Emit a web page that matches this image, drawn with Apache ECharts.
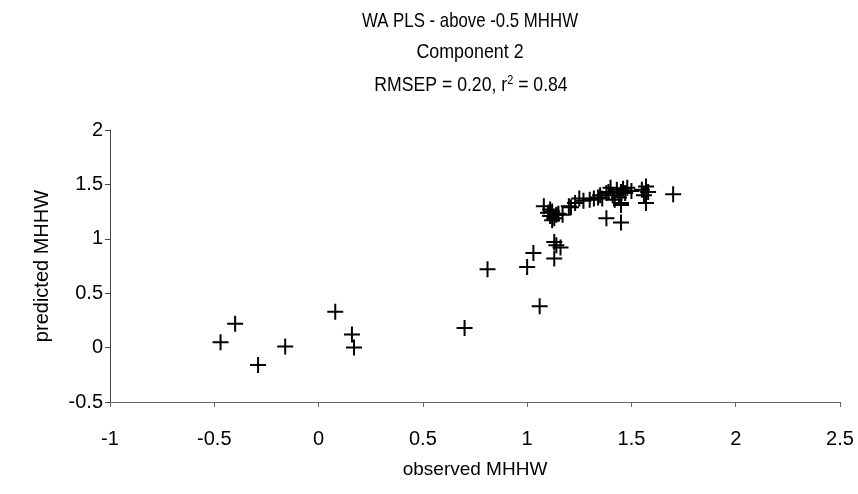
<!DOCTYPE html>
<html><head><meta charset="utf-8">
<script src="https://cdn.jsdelivr.net/npm/echarts@6/dist/echarts.min.js"></script>
<style>html,body{margin:0;padding:0;background:#fff}#c{width:858px;height:494px}</style>
</head><body><div id="c"></div>
<script>
const titleLines = ['WA PLS - above -0.5 MHHW', 'Component 2'];
const statsLine = {rmsep: '0.20', r2: '0.84'};
const xTicks = {min: -1, max: 2.5, interval: 0.5};
const yTicks = {min: -0.5, max: 2, interval: 0.5};
const xName = 'observed MHHW';
const yName = 'predicted MHHW';
const observed = [
  -0.47, -0.40, -0.29, -0.16, 0.08, 0.16, 0.17,
  0.70, 0.81, 1.00, 1.03, 1.06, 1.13, 1.13, 1.14, 1.16,
  1.08, 1.10, 1.11, 1.12, 1.13, 1.14, 1.12, 1.15, 1.17, 1.11,
  1.21, 1.20, 1.23, 1.25, 1.27, 1.30, 1.32, 1.34, 1.36, 1.35,
  1.38, 1.40, 1.41, 1.43, 1.44, 1.45, 1.46, 1.47, 1.48, 1.50,
  1.42, 1.45, 1.39, 1.55, 1.57, 1.58, 1.56,
  1.38, 1.45, 1.45, 1.57, 1.70
];
const predicted = [
  0.05, 0.22, -0.16, 0.01, 0.33, 0.12, 0.00,
  0.18, 0.72, 0.74, 0.87, 0.38, 0.82, 0.97, 0.94, 0.92,
  1.30, 1.24, 1.21, 1.25, 1.19, 1.22, 1.17, 1.23, 1.22, 1.27,
  1.29, 1.30, 1.33, 1.37, 1.35, 1.36, 1.37, 1.38, 1.37, 1.40,
  1.42, 1.47, 1.40, 1.45, 1.38, 1.43, 1.46, 1.42, 1.47, 1.44,
  1.36, 1.33, 1.43, 1.45, 1.48, 1.43, 1.40,
  1.19, 1.15, 1.31, 1.33, 1.41
];
const points = observed.map((x, i) => [x, predicted[i]]);
const FONT = '"Liberation Sans", Arial, sans-serif';
const titleStyle = {fontFamily: FONT, fontSize: 21, fill: '#000'};
const chart = echarts.init(document.getElementById('c'), null, {renderer: 'canvas'});
chart.setOption({
  animation: false,
  backgroundColor: '#fff',
  textStyle: {fontFamily: FONT, color: '#000'},
  graphic: [
    {type: 'text', x: 470, y: 21, scaleX: 0.8, style: Object.assign({text: titleLines[0], align: 'center', verticalAlign: 'middle'}, titleStyle)},
    {type: 'text', x: 470, y: 52, scaleX: 0.85, style: Object.assign({text: titleLines[1], align: 'center', verticalAlign: 'middle'}, titleStyle)},
    {type: 'text', x: 471, y: 85, scaleX: 0.84, style: Object.assign({
      text: 'RMSEP = ' + statsLine.rmsep + ', r{sup|2} = ' + statsLine.r2, align: 'center', verticalAlign: 'middle',
      rich: {sup: {fontFamily: FONT, fontSize: 13, fill: '#000', verticalAlign: 'top', padding: [0, 0, 10, 0]}}}, titleStyle)}
  ],
  grid: {left: 110, right: 18, top: 130, bottom: 92},
  xAxis: {
    type: 'value', min: xTicks.min, max: xTicks.max, interval: xTicks.interval,
    name: xName, nameLocation: 'middle', nameGap: 58,
    nameTextStyle: {fontFamily: FONT, fontSize: 19, color: '#000'},
    axisLine: {onZero: false, lineStyle: {color: '#666', width: 1}},
    axisTick: {show: true, inside: false, length: 5, lineStyle: {color: '#666'}},
    axisLabel: {fontFamily: FONT, fontSize: 20, color: '#000', margin: 27},
    splitLine: {show: false}
  },
  yAxis: {
    type: 'value', min: yTicks.min, max: yTicks.max, interval: yTicks.interval,
    name: yName, nameLocation: 'middle', nameGap: 58, nameRotate: 90,
    nameTextStyle: {fontFamily: FONT, fontSize: 20, color: '#000'},
    axisLine: {show: true, onZero: false, lineStyle: {color: '#444', width: 1}},
    axisTick: {show: true, inside: false, length: 5, lineStyle: {color: '#444'}},
    axisLabel: {fontFamily: FONT, fontSize: 20, color: '#000', margin: 7},
    splitLine: {show: false}
  },
  series: [{
    type: 'scatter',
    data: points,
    symbol: 'path://M7,0H9V7H16V9H9V16H7V9H0V7H7Z',
    symbolSize: 16,
    itemStyle: {color: '#000', opacity: 1}
  }]
});
</script></body></html>
